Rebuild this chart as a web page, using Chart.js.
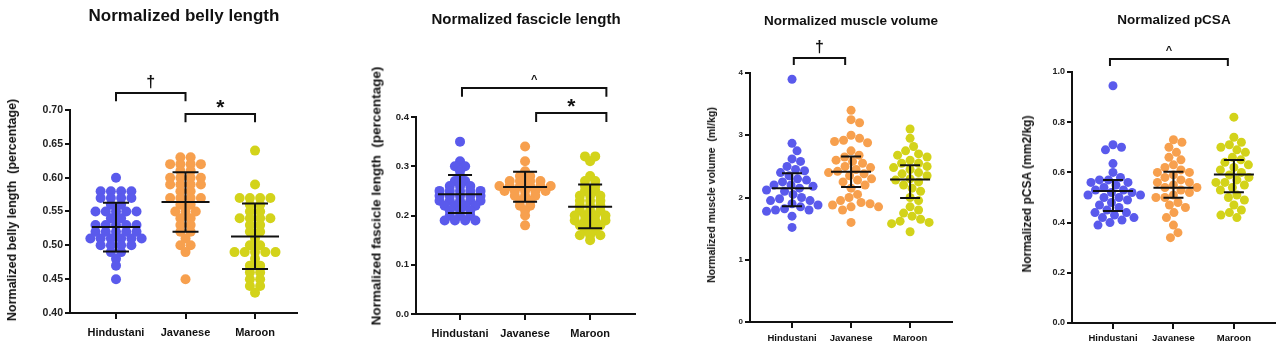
<!DOCTYPE html>
<html>
<head>
<meta charset="utf-8">
<script src="https://cdn.jsdelivr.net/npm/chart.js@4.4.1/dist/chart.umd.min.js"></script>
<style>
  body { margin: 0; background: #fff; width: 1280px; height: 345px; overflow: hidden; position: relative; font-family: "Liberation Sans", Arial, sans-serif; }
  canvas { position: absolute; top: 0; }
  .title { position: absolute; font-weight: bold; color: #111; white-space: nowrap; transform: translate(-50%, -50%); }
  .ytitle { position: absolute; font-weight: bold; color: #111; white-space: pre; transform: translate(-50%, -50%) rotate(-90deg); }
</style>
</head>
<body>
<canvas id="belly" width="320" height="345" style="left:0px"></canvas>
<canvas id="fascicle" width="320" height="345" style="left:320px"></canvas>
<canvas id="volume" width="320" height="345" style="left:650px"></canvas>
<canvas id="pcsa" width="310" height="345" style="left:970px"></canvas>

<div class="title" style="left:184px;top:16px;font-size:17px">Normalized belly length</div>
<div class="title" style="left:526px;top:18px;font-size:15px">Normalized fascicle length</div>
<div class="title" style="left:851px;top:20px;font-size:13.5px">Normalized muscle volume</div>
<div class="title" style="left:1174px;top:19px;font-size:13.5px">Normalized pCSA</div>

<div class="ytitle" style="left:12px;top:210px;font-size:12.5px">Normalized belly length  (percentage)</div>
<div class="ytitle" style="left:376px;top:196px;font-size:13.5px">Normalized fascicle length  (percentage)</div>
<div class="ytitle" style="left:711px;top:195px;font-size:10.5px">Normalized muscle volume  (ml/kg)</div>
<div class="ytitle" style="left:1027px;top:194px;font-size:12px">Normalized pCSA (mm2/kg)</div>

<script>
const groups = ['Hindustani', 'Javanese', 'Maroon'];
const colors = ['#5a5aec', '#f7a04e', '#d3d31a'];

// belly length
const bellyHindustani = [0.60, 0.58, 0.58, 0.58, 0.58, 0.57, 0.57, 0.57, 0.57, 0.56, 0.56, 0.55, 0.55, 0.55, 0.55, 0.55,
    0.54, 0.54, 0.53, 0.53, 0.53, 0.53, 0.53, 0.52, 0.52, 0.52, 0.52, 0.52, 0.51, 0.51, 0.51, 0.51, 0.51, 0.51,
    0.50, 0.50, 0.50, 0.50, 0.49, 0.49, 0.48, 0.47, 0.45];
const bellyJavanese = [0.63, 0.63, 0.62, 0.62, 0.62, 0.62, 0.61, 0.61, 0.60, 0.60, 0.60, 0.60, 0.59, 0.59, 0.59, 0.59,
    0.58, 0.58, 0.57, 0.57, 0.57, 0.57, 0.56, 0.56, 0.55, 0.55, 0.55, 0.54, 0.54, 0.53, 0.53, 0.52, 0.52, 0.51,
    0.50, 0.50, 0.49, 0.45];
const bellyMaroon = [0.64, 0.59, 0.57, 0.57, 0.57, 0.57, 0.56, 0.56, 0.55, 0.55, 0.54, 0.54, 0.54, 0.54, 0.53, 0.53,
    0.52, 0.52, 0.51, 0.50, 0.50, 0.49, 0.49, 0.49, 0.49, 0.49, 0.48, 0.47, 0.47, 0.46, 0.46, 0.45, 0.45, 0.44, 0.44, 0.43];
const bellyMean = [0.527, 0.564, 0.513];
const bellyLow = [0.491, 0.520, 0.465];
const bellyHigh = [0.563, 0.608, 0.562];
const bellyTicks = [0.40, 0.45, 0.50, 0.55, 0.60, 0.65, 0.70];

// fascicle length
const fascicleHindustani = [0.35, 0.31, 0.30, 0.30, 0.29, 0.28, 0.27, 0.27, 0.26, 0.26, 0.26, 0.25, 0.25, 0.25, 0.25, 0.25,
    0.24, 0.24, 0.24, 0.24, 0.24, 0.23, 0.23, 0.23, 0.23, 0.23, 0.22, 0.22, 0.22, 0.22, 0.21, 0.21, 0.21, 0.20, 0.20, 0.20,
    0.19, 0.19, 0.19, 0.19];
const fascicleJavanese = [0.34, 0.31, 0.29, 0.28, 0.28, 0.27, 0.27, 0.27, 0.27, 0.26, 0.26, 0.26, 0.26, 0.26, 0.26, 0.25,
    0.25, 0.25, 0.25, 0.25, 0.24, 0.24, 0.24, 0.23, 0.23, 0.22, 0.22, 0.21, 0.20, 0.18];
const fascicleMaroon = [0.32, 0.32, 0.31, 0.28, 0.27, 0.27, 0.26, 0.26, 0.25, 0.25, 0.24, 0.24, 0.24, 0.23, 0.23, 0.23,
    0.22, 0.22, 0.22, 0.21, 0.21, 0.21, 0.20, 0.20, 0.20, 0.20, 0.19, 0.19, 0.19, 0.19, 0.18, 0.18, 0.18, 0.17, 0.17,
    0.16, 0.16, 0.16, 0.15];
const fascicleMean = [0.243, 0.258, 0.218];
const fascicleLow = [0.205, 0.228, 0.174];
const fascicleHigh = [0.282, 0.289, 0.263];
const fascicleTicks = [0.0, 0.1, 0.2, 0.3, 0.4];

// muscle volume
const volumeHindustani = [3.90, 2.87, 2.75, 2.62, 2.58, 2.50, 2.45, 2.43, 2.40, 2.35, 2.30, 2.28, 2.25, 2.20, 2.20, 2.18,
    2.15, 2.12, 2.10, 2.05, 2.00, 1.98, 1.95, 1.95, 1.90, 1.88, 1.85, 1.82, 1.80, 1.80, 1.78, 1.70, 1.52];
const volumeJavanese = [3.40, 3.25, 3.20, 3.00, 2.95, 2.92, 2.90, 2.88, 2.75, 2.68, 2.65, 2.60, 2.58, 2.55, 2.50, 2.48,
    2.45, 2.42, 2.40, 2.38, 2.35, 2.30, 2.28, 2.25, 2.20, 2.15, 2.05, 2.00, 1.95, 1.92, 1.90, 1.88, 1.85, 1.85, 1.80, 1.60];
const volumeMaroon = [3.10, 2.95, 2.82, 2.75, 2.70, 2.68, 2.65, 2.60, 2.55, 2.55, 2.50, 2.48, 2.45, 2.40, 2.38, 2.35,
    2.30, 2.28, 2.25, 2.20, 2.15, 2.10, 2.00, 1.95, 1.85, 1.80, 1.75, 1.70, 1.65, 1.62, 1.60, 1.58, 1.45];
const volumeMean = [2.15, 2.415, 2.29];
const volumeLow = [1.86, 2.17, 1.99];
const volumeHigh = [2.39, 2.66, 2.52];
const volumeTicks = [0, 1, 2, 3, 4];

// pCSA
const pcsaHindustani = [0.945, 0.71, 0.70, 0.69, 0.635, 0.60, 0.58, 0.57, 0.57, 0.56, 0.56, 0.55, 0.54, 0.53, 0.53, 0.52,
    0.52, 0.51, 0.51, 0.50, 0.50, 0.49, 0.48, 0.47, 0.46, 0.45, 0.44, 0.44, 0.43, 0.42, 0.42, 0.41, 0.40, 0.39];
const pcsaJavanese = [0.73, 0.72, 0.70, 0.68, 0.66, 0.65, 0.63, 0.62, 0.61, 0.60, 0.60, 0.59, 0.58, 0.57, 0.56, 0.56,
    0.55, 0.54, 0.54, 0.53, 0.52, 0.51, 0.50, 0.50, 0.48, 0.47, 0.46, 0.44, 0.42, 0.39, 0.36, 0.34];
const pcsaMaroon = [0.82, 0.74, 0.72, 0.71, 0.70, 0.69, 0.68, 0.66, 0.65, 0.64, 0.63, 0.62, 0.61, 0.60, 0.59, 0.58,
    0.57, 0.56, 0.56, 0.55, 0.54, 0.53, 0.51, 0.50, 0.49, 0.47, 0.45, 0.44, 0.43, 0.42];
const pcsaMean = [0.526, 0.539, 0.592];
const pcsaLow = [0.446, 0.499, 0.521];
const pcsaHigh = [0.570, 0.603, 0.649];
const pcsaTicks = [0.0, 0.2, 0.4, 0.6, 0.8, 1.0];

// brackets: [from group, to group, bar level, leg end, label]
const bellyBrackets = [[1, 2, 0.725, 0.713, '†'], [2, 3, 0.694, 0.682, '*']];
const fascicleBrackets = [[1.03, 3.25, 0.459, 0.441, '^'], [2.17, 3.25, 0.408, 0.390, '*']];
const volumeBrackets = [[1.03, 1.9, 4.24, 4.13, '†']];
const pcsaBrackets = [[0.95, 2.9, 1.052, 1.024, '^']];

const FONT = '"Liberation Sans", Arial, sans-serif';

// plugin that draws mean / error bars and significance brackets
const overlayPlugin = {
    id: 'overlay',
    afterDatasetsDraw(chart) {
        const o = chart.options.plugins.overlay;
        const ctx = chart.ctx;
        const xs = chart.scales.x, ys = chart.scales.y;
        ctx.save();
        ctx.strokeStyle = '#111';
        ctx.fillStyle = '#111';
        ctx.lineWidth = 2;
        o.mean.forEach((m, i) => {
            const cx = xs.getPixelForValue(i + 1);
            const ym = ys.getPixelForValue(m), yl = ys.getPixelForValue(o.low[i]), yh = ys.getPixelForValue(o.high[i]);
            ctx.beginPath();
            ctx.moveTo(cx - o.meanW, ym); ctx.lineTo(cx + o.meanW, ym);
            ctx.moveTo(cx, yl); ctx.lineTo(cx, yh);
            ctx.moveTo(cx - o.capW, yl); ctx.lineTo(cx + o.capW, yl);
            ctx.moveTo(cx - o.capW, yh); ctx.lineTo(cx + o.capW, yh);
            ctx.stroke();
        });
        o.brackets.forEach(b => {
            const x1 = xs.getPixelForValue(b[0]), x2 = xs.getPixelForValue(b[1]);
            const yb = ys.getPixelForValue(b[2]), yl = ys.getPixelForValue(b[3]);
            ctx.beginPath();
            ctx.moveTo(x1, yl); ctx.lineTo(x1, yb); ctx.lineTo(x2, yb); ctx.lineTo(x2, yl);
            ctx.stroke();
            let size = 16, lift = 6;
            if (b[4] === '^') { size = 11; lift = 5; }
            if (b[4] === '*') { size = 21; lift = 0; }
            ctx.font = 'bold ' + size + 'px ' + FONT;
            ctx.textAlign = 'center';
            ctx.textBaseline = 'alphabetic';
            ctx.fillText(b[4], (x1 + x2) / 2, yb - lift);
        });
        ctx.restore();
    }
};

// sideways offsets (px) of the dots of one group
// 'rows': equal values sit side by side, centred; otherwise a beeswarm
function swarm(values, ys, r, rows) {
    const offs = new Array(values.length).fill(0);
    if (rows) {
        const byValue = {};
        values.forEach((v, i) => { (byValue[v] = byValue[v] || []).push(i); });
        Object.values(byValue).forEach(idx => {
            idx.forEach((i, j) => { offs[i] = (j - (idx.length - 1) / 2) * 2.05 * r; });
        });
        return offs;
    }
    const order = values.map((v, i) => i).sort((a, b) => values[b] - values[a]);
    const placed = [];
    const minD = 2 * r * 0.97;
    order.forEach(i => {
        const py = ys.getPixelForValue(values[i]);
        for (let k = 0; k < 400; k++) {
            const off = k === 0 ? 0 : (k % 2 ? 1 : -1) * Math.ceil(k / 2) * 0.5;
            if (placed.every(p => (p.x - off) ** 2 + (p.y - py) ** 2 >= minD * minD)) {
                offs[i] = off;
                placed.push({ x: off, y: py });
                break;
            }
        }
    });
    return offs;
}

function makePanel(id, cfg) {
    const ctx = document.getElementById(id).getContext('2d');
    const chart = new Chart(ctx, {
        type: 'scatter',
        data: {
            datasets: cfg.series.map((vals, g) => ({
                data: vals.map(v => ({ x: g + 1, y: v })),
                backgroundColor: colors[g],
                borderWidth: 0,
                pointRadius: cfg.radius,
                pointHoverRadius: cfg.radius,
                clip: false
            }))
        },
        options: {
            responsive: false,
            animation: false,
            events: [],
            layout: { padding: { top: cfg.top, right: cfg.right, left: 0, bottom: 0 } },
            plugins: {
                legend: { display: false },
                tooltip: { enabled: false },
                overlay: {
                    mean: cfg.mean, low: cfg.low, high: cfg.high,
                    meanW: cfg.meanW, capW: cfg.capW, brackets: cfg.brackets
                }
            },
            scales: {
                x: {
                    type: 'linear',
                    min: cfg.xMin,
                    max: cfg.xMax,
                    afterBuildTicks: s => { s.ticks = [1, 2, 3].map(v => ({ value: v })); },
                    afterFit: s => { s.height = cfg.xH; },
                    border: { color: '#111', width: 2 },
                    grid: { drawOnChartArea: false, drawTicks: true, tickLength: 6, color: '#111', lineWidth: 2 },
                    ticks: {
                        callback: v => groups[v - 1],
                        color: '#111',
                        font: { family: FONT, size: cfg.xFont, weight: 'bold' },
                        padding: cfg.xPad,
                        maxRotation: 0,
                        autoSkip: false
                    }
                },
                y: {
                    min: cfg.ticks[0],
                    max: cfg.ticks[cfg.ticks.length - 1],
                    afterBuildTicks: s => { s.ticks = cfg.ticks.map(v => ({ value: v })); },
                    afterFit: s => { s.width = cfg.axisX; },
                    border: { color: '#111', width: 2 },
                    grid: { drawOnChartArea: false, drawTicks: true, tickLength: 5, color: '#111', lineWidth: 2 },
                    ticks: {
                        callback: v => v.toFixed(cfg.decimals),
                        color: '#222',
                        font: { family: FONT, size: cfg.yFont, weight: 'bold' },
                        padding: 2
                    }
                }
            }
        },
        plugins: [overlayPlugin]
    });

    // second pass: spread the dots now that the scales are known
    const xs = chart.scales.x, ys = chart.scales.y;
    const pxPerUnit = xs.getPixelForValue(2) - xs.getPixelForValue(1);
    chart.data.datasets.forEach((ds, g) => {
        const offs = swarm(cfg.series[g], ys, cfg.radius, cfg.rows);
        ds.data = cfg.series[g].map((v, i) => ({ x: g + 1 + offs[i] / pxPerUnit, y: v }));
    });
    chart.update('none');
}

makePanel('belly', {
    series: [bellyHindustani, bellyJavanese, bellyMaroon],
    mean: bellyMean, low: bellyLow, high: bellyHigh, ticks: bellyTicks, decimals: 2,
    brackets: bellyBrackets, radius: 5, meanW: 24, capW: 13, rows: true,
    top: 110, right: 23, axisX: 70, xH: 32, xMin: 0.338, xMax: 3.604,
    xFont: 11, yFont: 10.5, xPad: 7
});

makePanel('fascicle', {
    series: [fascicleHindustani, fascicleJavanese, fascicleMaroon],
    mean: fascicleMean, low: fascicleLow, high: fascicleHigh, ticks: fascicleTicks, decimals: 1,
    brackets: fascicleBrackets, radius: 5, meanW: 22, capW: 12, rows: true,
    top: 117, right: 5, axisX: 96, xH: 31, xMin: 0.323, xMax: 3.69,
    xFont: 11, yFont: 9.5, xPad: 7
});

makePanel('volume', {
    series: [volumeHindustani, volumeJavanese, volumeMaroon],
    mean: volumeMean, low: volumeLow, high: volumeHigh, ticks: volumeTicks, decimals: 0,
    brackets: volumeBrackets, radius: 4.5, meanW: 20, capW: 10, rows: false,
    top: 73, right: 18, axisX: 100, xH: 23, xMin: 0.288, xMax: 3.71,
    xFont: 9.5, yFont: 8, xPad: 5
});

makePanel('pcsa', {
    series: [pcsaHindustani, pcsaJavanese, pcsaMaroon],
    mean: pcsaMean, low: pcsaLow, high: pcsaHigh, ticks: pcsaTicks, decimals: 1,
    brackets: pcsaBrackets, radius: 4.5, meanW: 20, capW: 10, rows: false,
    top: 72, right: 5, axisX: 102, xH: 22, xMin: 0.322, xMax: 3.68,
    xFont: 9.5, yFont: 9, xPad: 4
});
</script>
</body>
</html>
